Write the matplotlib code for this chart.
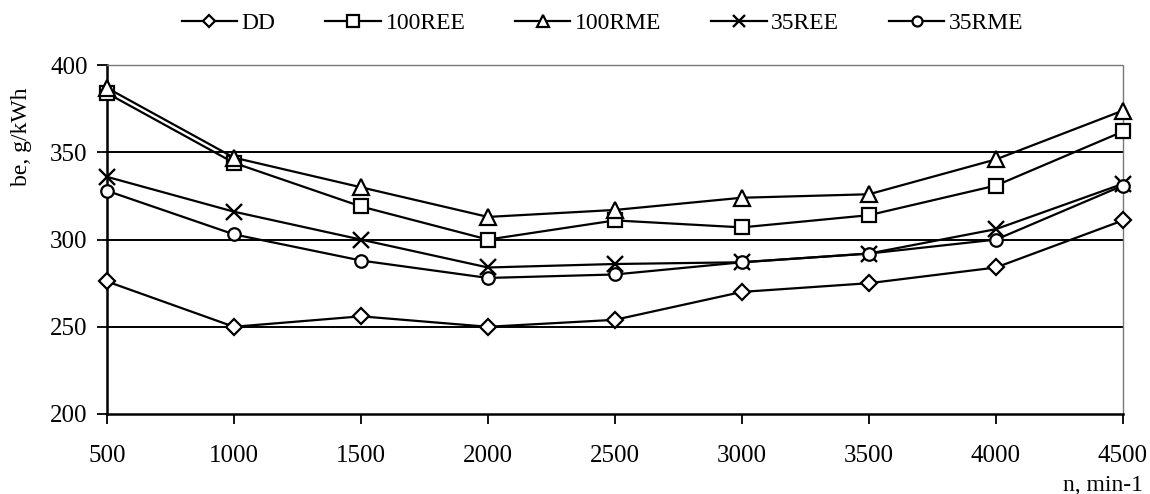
import matplotlib.pyplot as plt

plt.rcParams['font.family'] = ['Liberation Serif', 'DejaVu Serif']

n_rpm = [500, 1000, 1500, 2000, 2500, 3000, 3500, 4000, 4500]
be_dd = [276, 250, 256, 250, 254, 270, 275, 284, 311]
be_100ree = [384, 344, 319, 300, 311, 307, 314, 331, 362]
be_100rme = [387, 347, 330, 313, 317, 324, 326, 346, 374]
be_35ree = [336, 316, 300, 284, 286, 287, 292, 306, 332]
be_35rme = [328, 303, 288, 278, 280, 287, 292, 300, 331]

series = [
    ("DD", be_dd, "D", 8),
    ("100REE", be_100ree, "s", 10),
    ("100RME", be_100rme, "^", 11),
    ("35REE", be_35ree, "x", 11),
    ("35RME", be_35rme, "o", 9),
]

fig = plt.figure(figsize=(11.5, 4.94), dpi=100)
ax = fig.add_axes([0.093, 0.162, 0.8835, 0.706])

# horizontal grid lines
for y in [250, 300, 350]:
    ax.axhline(y, color="black", lw=1.4, zorder=1)

for name, vals, m, ms in series:
    if m == "x":
        kw = dict(markeredgecolor="black", markeredgewidth=1.7)
    else:
        kw = dict(markerfacecolor="white", markeredgecolor="black", markeredgewidth=1.6)
    ax.plot(n_rpm, vals, color="black", lw=1.6, marker=m, markersize=ms,
            label=name, zorder=3, clip_on=False, **kw)

ax.set_xlim(500, 4500)
ax.set_ylim(200, 400)
ax.set_xticks(n_rpm)
ax.set_yticks([200, 250, 300, 350, 400])
ax.tick_params(labelsize=18, direction="out", length=7, width=1.3, colors="black")
ax.tick_params(axis="x", pad=15)
ax.tick_params(axis="y", pad=7)

for side in ["top", "right"]:
    ax.spines[side].set_color("#777777")
    ax.spines[side].set_linewidth(1.0)
    ax.spines[side].set_linestyle((0, (1, 1)))
for side in ["left", "bottom"]:
    ax.spines[side].set_linewidth(1.8)
    ax.spines[side].set_color("black")

fig.text(0.019, 0.723, "be, g/kWh", fontsize=17, rotation=90, ha="center", va="center")
fig.text(0.994, 0.018, "n, min-1", fontsize=17, ha="right", va="center")

fig.legend(loc="center", bbox_to_anchor=(0.524, 0.953), ncol=5, frameon=False,
           fontsize=17, handlelength=2.35, columnspacing=2.1, handletextpad=0.2,
           markerscale=0.8)

fig.savefig("out.png", dpi=100)
